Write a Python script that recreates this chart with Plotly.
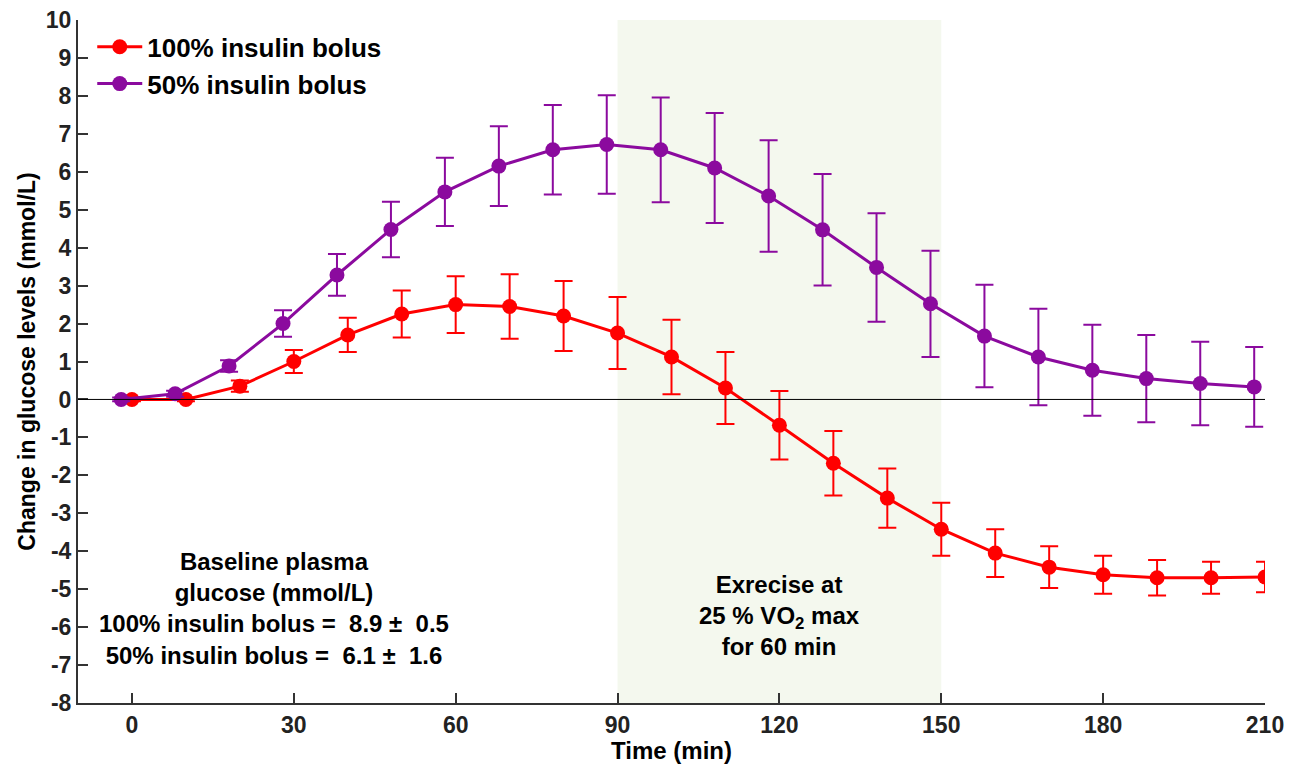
import plotly.graph_objects as go

# ---- data ----
time_100 = [0, 10, 20, 30, 40, 50, 60, 70, 80, 90, 100, 110, 120, 130, 140, 150, 160, 170, 180, 190, 200, 210]
glu_100 = [0, 0, 0.35, 1.0, 1.7, 2.25, 2.5, 2.45, 2.2, 1.75, 1.12, 0.3, -0.68, -1.68, -2.6, -3.42, -4.05, -4.42, -4.62, -4.7, -4.7, -4.68]
err_100 = [0.05, 0.05, 0.15, 0.3, 0.45, 0.62, 0.75, 0.85, 0.92, 0.95, 0.98, 0.95, 0.9, 0.85, 0.78, 0.7, 0.63, 0.55, 0.5, 0.47, 0.42, 0.4]

time_50 = [-2, 8, 18, 28, 38, 48, 58, 68, 78, 88, 98, 108, 118, 128, 138, 148, 158, 168, 178, 188, 198, 208]
glu_50 = [0, 0.15, 0.88, 2.0, 3.28, 4.48, 5.47, 6.15, 6.58, 6.72, 6.58, 6.1, 5.36, 4.47, 3.48, 2.52, 1.67, 1.12, 0.77, 0.55, 0.42, 0.33]
err_50 = [0.05, 0.08, 0.15, 0.35, 0.55, 0.73, 0.9, 1.05, 1.18, 1.3, 1.38, 1.45, 1.47, 1.47, 1.43, 1.4, 1.35, 1.27, 1.2, 1.15, 1.1, 1.05]

x_ticks = [0, 30, 60, 90, 120, 150, 180, 210]
y_ticks = list(range(-8, 11))
y_ticktext = [str(v) for v in y_ticks]  # plain hyphen minus, as in the reference
exercise_window = [90, 150]

RED = "#FF0000"
PURPLE = "#8B0A9E"
FONT = "Liberation Sans, Arial, Helvetica, sans-serif"

fig = go.Figure()

fig.add_vrect(x0=exercise_window[0], x1=exercise_window[1], fillcolor="#F4F8EE",
              line_width=0, layer="below")

fig.add_hline(y=0, line=dict(color="black", width=1))

fig.add_trace(go.Scatter(
    x=time_100, y=glu_100, name="100% insulin bolus", mode="lines+markers",
    line=dict(color=RED, width=3), marker=dict(color=RED, size=15, symbol="circle"),
    error_y=dict(type="data", array=err_100, color=RED, thickness=2, width=9),
))
fig.add_trace(go.Scatter(
    x=time_50, y=glu_50, name="50% insulin bolus", mode="lines+markers",
    line=dict(color=PURPLE, width=3), marker=dict(color=PURPLE, size=15, symbol="circle"),
    error_y=dict(type="data", array=err_50, color=PURPLE, thickness=2, width=9),
))

fig.add_annotation(
    x=26.3, y=-5.5, xref="x", yref="y", showarrow=False, align="center",
    text="<b>Baseline plasma<br>glucose (mmol/L)<br>100% insulin bolus =  8.9 ±  0.5<br>50% insulin bolus =  6.1 ±  1.6</b>",
    font=dict(family=FONT, size=24, color="black"),
)
fig.add_annotation(
    x=120, y=-5.69, xref="x", yref="y", showarrow=False, align="center",
    text="<b>Exrecise at<br>25 % VO<sub>2</sub> max<br>for 60 min</b>",
    font=dict(family=FONT, size=24, color="black"),
)

fig.update_layout(
    width=1285, height=756,
    margin=dict(l=70, r=28, t=12, b=61),
    paper_bgcolor="white", plot_bgcolor="white",
    font=dict(family=FONT, size=24, color="black"),
    showlegend=True,
    legend=dict(x=0.012, y=0.995, xanchor="left", yanchor="top",
                font=dict(family=FONT, size=26, color="black", weight="bold"),
                bgcolor="rgba(0,0,0,0)", tracegroupgap=0, itemwidth=45),
    xaxis=dict(
        range=[-10, 210], tickvals=x_ticks, ticks="inside", ticklen=10, tickwidth=2,
        tickcolor="#333", showline=True, linecolor="#333", linewidth=2, showgrid=False,
        zeroline=False, mirror=False, automargin=False, ticklabeloverflow="allow",
        tickfont=dict(family=FONT, size=23, color="#222", weight="bold"),
        title=dict(text="<b>Time (min)</b>", font=dict(family=FONT, size=24), standoff=4),
    ),
    yaxis=dict(
        range=[-8, 10], tickvals=y_ticks, ticktext=y_ticktext, ticks="inside", ticklen=10,
        tickwidth=2, tickcolor="#333", showline=True, linecolor="#333", linewidth=2,
        showgrid=False, zeroline=False, automargin=False, ticklabeloverflow="allow",
        tickfont=dict(family=FONT, size=23, color="#222", weight="bold"),
        title=dict(text="<b>Change in glucose levels (mmol/L)</b>", font=dict(family=FONT, size=23), standoff=4),
    ),
)

fig.write_html("out.html")
